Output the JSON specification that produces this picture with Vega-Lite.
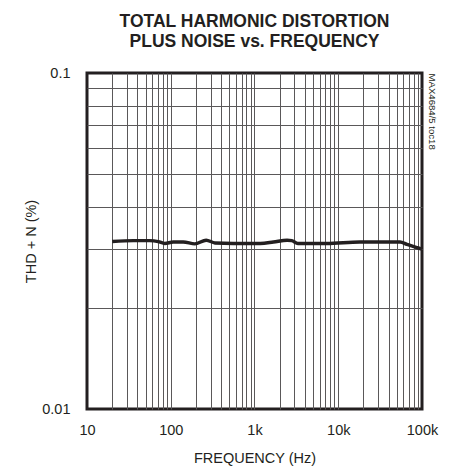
{
  "$schema": "https://vega.github.io/schema/vega-lite/v6.json",
  "width": 335,
  "height": 336,
  "autosize": {"type": "none"},
  "padding": {"left": 87, "top": 73, "right": 27, "bottom": 62},
  "title": {
    "text": ["TOTAL HARMONIC DISTORTION", "PLUS NOISE vs. FREQUENCY"],
    "font": "Liberation Sans",
    "fontSize": 17.5,
    "fontWeight": "bold",
    "color": "#231f20",
    "lineHeight": 20,
    "anchor": "middle",
    "offset": 15
  },
  "config": {
    "view": {"stroke": "#231f20", "strokeWidth": 3},
    "axis": {
      "labelFont": "Liberation Sans",
      "labelFontSize": 14.5,
      "labelColor": "#231f20",
      "titleFont": "Liberation Sans",
      "titleFontSize": 14.5,
      "titleFontWeight": "normal",
      "titleColor": "#231f20",
      "ticks": false,
      "tickSize": 0,
      "domain": false,
      "gridColor": "#5a5859",
      "gridWidth": 1,
      "gridOpacity": 1,
      "labelFlush": false,
      "labelOverlap": false
    }
  },
  "data": {
    "values": [
      {"f": 20, "v": 0.0315},
      {"f": 36, "v": 0.0317},
      {"f": 56, "v": 0.0317},
      {"f": 71, "v": 0.0315},
      {"f": 85, "v": 0.0311},
      {"f": 107, "v": 0.0314},
      {"f": 141, "v": 0.0314},
      {"f": 194, "v": 0.031},
      {"f": 265, "v": 0.0318},
      {"f": 337, "v": 0.0312},
      {"f": 556, "v": 0.0311},
      {"f": 969, "v": 0.0311},
      {"f": 1170, "v": 0.0311},
      {"f": 1680, "v": 0.0314},
      {"f": 2450, "v": 0.0318},
      {"f": 2780, "v": 0.0317},
      {"f": 3300, "v": 0.0311},
      {"f": 7270, "v": 0.0311},
      {"f": 18000, "v": 0.0314},
      {"f": 54700, "v": 0.0314},
      {"f": 66000, "v": 0.0309},
      {"f": 87000, "v": 0.0302},
      {"f": 100000, "v": 0.0299}
    ]
  },
  "encoding": {
    "x": {
      "field": "f",
      "type": "quantitative",
      "scale": {"type": "log", "domain": [10, 100000], "nice": false},
      "axis": {
        "title": "FREQUENCY (Hz)",
        "values": [10, 20, 30, 40, 50, 60, 70, 80, 90, 100, 200, 300, 400, 500, 600, 700, 800, 900, 1000, 2000, 3000, 4000, 5000, 6000, 7000, 8000, 9000, 10000, 20000, 30000, 40000, 50000, 60000, 70000, 80000, 90000, 100000],
        "labelExpr": "datum.value == 10 ? '10' : datum.value == 100 ? '100' : datum.value == 1000 ? '1k' : datum.value == 10000 ? '10k' : datum.value == 100000 ? '100k' : ''",
        "labelPadding": 14,
        "titlePadding": 15,
        "gridOpacity": {"condition": {"test": "datum.value == 10 || datum.value == 100000", "value": 0}, "value": 1}
      }
    }
  },
  "layer": [
    {
      "mark": {"type": "line", "color": "#231f20", "strokeWidth": 3.4, "interpolate": "monotone"},
      "encoding": {
        "y": {
          "field": "v",
          "type": "quantitative",
          "scale": {"type": "log", "domain": [0.01, 0.1], "nice": false},
          "axis": {
            "orient": "left",
            "title": "THD + N (%)",
            "values": [0.01, 0.02, 0.03, 0.04, 0.05, 0.06, 0.07, 0.08, 0.09, 0.1],
            "labelExpr": "datum.value == 0.01 ? '0.01' : datum.value == 0.1 ? '0.1' : ''",
            "labelPadding": 17,
            "titlePadding": 3,
            "gridOpacity": {"condition": {"test": "datum.value == 0.01 || datum.value == 0.1", "value": 0}, "value": 1}
          }
        }
      }
    },
    {
      "mark": {"type": "line", "opacity": 0},
      "encoding": {
        "y": {
          "field": "v",
          "type": "quantitative",
          "scale": {"type": "log", "domain": [0.01, 0.1], "nice": false},
          "axis": {
            "orient": "right",
            "title": "MAX4684/5 toc18",
            "titleFontSize": 9.6,
            "titleAnchor": "end",
            "titleAlign": "left",
            "titlePadding": 4,
            "labels": false,
            "grid": false
          }
        }
      }
    }
  ],
  "resolve": {"axis": {"y": "independent"}}
}
